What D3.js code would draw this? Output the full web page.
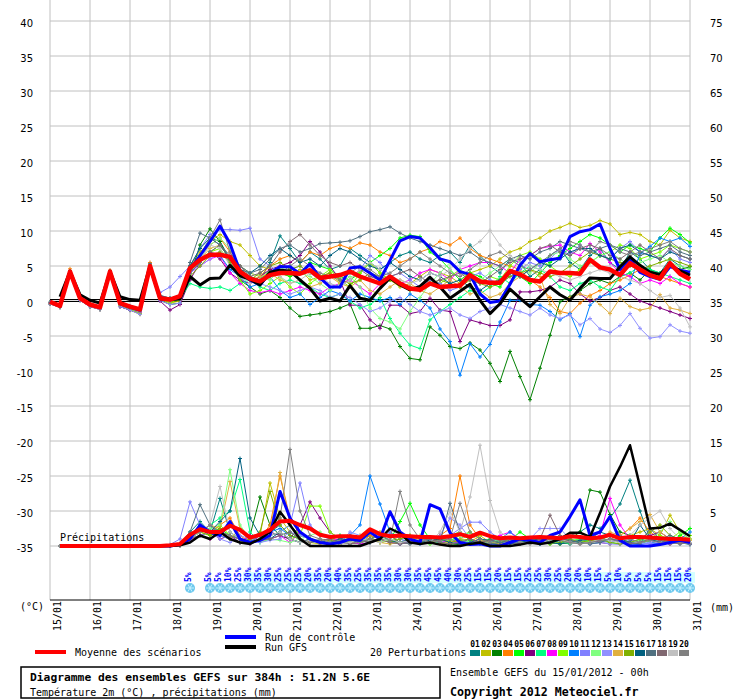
<!DOCTYPE html>
<html>
<head>
<meta charset="utf-8">
<script src="https://cdn.jsdelivr.net/npm/d3@7"></script>
<style>
body { margin: 0; background: #fff; }
svg { display: block; }
</style>
</head>
<body>
<div id="chart"></div>
<script>
// ---- data ----------------------------------------------------------
const dates = ["15/01","16/01","17/01","18/01","19/01","20/01","21/01","22/01","23/01",
  "24/01","25/01","26/01","27/01","28/01","29/01","30/01","31/01"];
const leftTicks = [40,35,30,25,20,15,10,5,0,-5,-10,-15,-20,-25,-30,-35];
const rightTicks = [75,70,65,60,55,50,45,40,35,30,25,20,15,10,5,0];
const stepHours = 6;   // one value every 6 h, 65 values from 0h to 384h

const pertNames = ["01","02","03","04","05","06","07","08","09","10",
  "11","12","13","14","15","16","17","18","19","20"];
const pertColors = ["#008080","#c0c000","#008000","#ff8000","#00ff00","#800080","#00ff80",
  "#ff00ff","#80ff00","#0080ff","#8080ff","#80ff80","#9090ff","#e0b040","#80b000",
  "#006080","#507080","#806870","#c0c0c0","#808080"];

// 2m temperature (°C)
const meanTemp = [-0.1,-0.7,4.2,0.4,-0.5,-0.9,4.2,-0.3,-0.8,-1.2,5.0,0.4,0.2,0.7,
  4.7,5.9,6.6,6.6,6.3,4.2,3.2,2.8,3.7,4.0, 4.0,3.9,4.4,3.3,3.5,3.7,4.2,3.5,3.0,2.5,
  3.5,2.5,1.8,1.6,2.5,2.0,2.1,2.2,3.7,2.8, 2.6,2.6,4.3,3.8,3.0,2.8,4.2,4.0,4.0,3.9,
  5.9,4.8,4.5,3.7,5.4,4.5,3.7,3.2,5.4,3.9,3.1];
const ctlTemp = [-0.1,-0.7,4.2,0.4,-0.5,-0.9,4.2,-0.4,-0.9,-1.3,4.9,0.5,0.2,0.5,
  4.5,6.5,8.5,10.7,8.2,4.2,3.0,2.3,4.0,4.9, 4.9,3.9,5.3,3.3,2.0,2.0,4.7,4.9,4.0,3.0,
  5.8,8.6,9.2,9.0,7.6,6.0,5.6,4.2,3.8,1.0, -0.2,0.0,2.4,5.1,6.8,5.6,5.9,6.1,9.2,9.9,
  10.2,11.0,7.5,4.5,6.1,4.1,3.5,3.1,4.9,4.4,4.1];
const gfsTemp = [null,0.6,4.2,0.9,0.1,-0.3,4.2,0.6,0.2,0.1,5.0,0.3,0.2,0.3,
  3.5,2.3,3.2,3.3,5.1,3.6,3.1,2.3,4.1,4.4, 4.3,3.0,1.8,0.0,0.4,0.0,2.2,0.4,0.1,1.8,
  3.3,2.3,1.6,2.1,3.4,2.0,0.4,1.4,2.4,0.1, -1.8,-0.4,1.7,0.4,-0.8,0.6,2.0,0.9,0.1,1.8,
  3.3,3.2,3.2,4.9,6.3,5.1,4.1,3.8,5.2,4.3,3.7];
const pertTemp = [
  // 01
  [-0.2,-0.6,4.3,0.5,-0.4,-0.8,4.3,-0.3,-0.8,-1.2,5.3,0.8,0.4,0.8,
   4.5,6.5,9.0,8.5,6.0,4.5,3.5,3.0,5.5,9.3, 7.5,5.5,7.0,6.0,4.5,5.0,7.5,6.5,5.5,4.5,
   5.5,6.5,7.0,6.0,5.5,6.5,7.0,5.5,8.0,6.5, 5.0,4.0,6.0,5.5,3.5,4.5,6.5,7.5,5.5,4.5,
   6.5,7.5,5.5,4.5,7.0,6.0,4.5,4.0,6.0,5.0,4.5],
  // 02
  [-0.3,-0.8,4.1,0.3,-0.6,-1.2,4.0,-0.7,-1.3,-1.9,4.8,0.2,-0.3,0.0,
   5.0,7.0,8.5,9.5,8.5,8.0,6.5,5.0,4.5,4.0, 3.5,4.5,3.0,3.5,4.0,2.5,3.0,4.5,5.5,4.0,
   3.0,2.0,2.5,3.5,4.5,4.0,3.5,2.5,4.0,4.5, 5.0,6.0,7.0,7.5,8.5,9.0,10.0,10.5,11.1,10.5,
   10.8,11.5,11.0,9.5,9.8,9.5,8.5,8.0,10.1,9.0,8.5],
  // 03
  [-0.4,-0.9,3.9,0.1,-0.8,-1.2,3.9,-0.8,-1.3,-1.7,4.7,0.1,-0.5,-0.3,
   3.5,8.0,10.3,8.5,5.5,3.0,2.0,1.0,1.5,0.5, -1.0,-2.2,-2.0,-1.8,-1.5,-1.0,-0.4,-3.9,-3.9,-3.5,
   -4.0,-6.5,-8.2,-8.4,-3.7,-4.9,-6.5,-6.8,-6.0,-7.0, -8.9,-11.5,-7.2,-10.8,-14.1,-9.6,-4.9,-0.1,0.6,1.5,
   2.5,3.0,2.5,3.5,4.0,3.0,4.5,3.5,5.0,4.5,4.9],
  // 04
  [-0.2,-0.7,4.6,0.4,-0.5,-0.9,4.4,-0.4,-0.9,-1.3,5.5,0.6,0.2,0.6,
   5.0,6.5,8.0,9.0,7.0,5.0,4.0,3.5,5.0,6.0, 6.5,5.5,7.0,6.5,7.5,8.0,7.5,8.3,8.0,7.0,
   6.5,5.5,6.0,7.0,7.5,8.5,8.0,9.0,7.5,6.5, 6.0,5.5,5.0,4.5,3.0,2.0,0.5,-1.5,-1.8,-0.3,
   0.8,1.5,2.5,3.0,3.7,4.5,4.0,3.5,3.0,2.5,2.0],
  // 05
  [-0.3,-0.8,4.1,0.3,-0.6,-1.0,4.1,-0.5,-1.0,-1.5,5.0,0.5,0.0,0.3,
   4.0,5.5,7.0,8.0,6.0,4.5,3.5,3.0,4.5,4.0, 3.5,4.0,5.5,5.0,4.5,3.5,3.0,4.0,5.5,6.5,
   7.5,9.0,9.4,9.2,7.0,6.0,4.5,3.0,4.0,3.5, 2.5,2.0,4.0,3.5,2.5,4.0,5.5,6.5,7.5,8.5,
   9.5,9.0,8.0,7.0,8.0,7.5,7.0,9.0,10.4,9.5,8.3],
  // 06
  [-0.4,-0.9,3.9,0.1,-0.8,-1.2,3.8,-0.8,-1.3,-1.8,4.6,0.0,-1.3,-0.5,
   3.0,5.5,7.0,6.0,4.0,3.0,2.5,3.5,4.5,5.0, 5.5,6.5,8.5,7.0,5.0,3.0,-0.6,-0.6,-2.7,-3.9,
   -0.6,-0.6,-1.8,-1.5,0.4,-1.3,-1.5,-5.8,-2.7,-3.1, -3.5,-3.5,-2.7,1.3,1.3,1.5,2.0,3.0,2.5,1.0,
   0.0,0.5,1.5,2.0,1.0,0.0,-0.5,-1.0,-1.5,-2.0,-2.5],
  // 07
  [-0.3,-0.8,4.1,0.3,-0.6,-1.0,4.1,-0.5,-1.0,-1.5,5.0,0.5,0.0,0.3,
   2.5,2.0,1.8,2.0,1.5,2.5,3.0,2.0,1.5,2.5, 3.0,2.5,2.0,1.0,0.5,1.0,0.0,-1.0,-0.5,0.5,
   -2.5,-4.6,-6.3,-6.8,-2.7,-1.5,-0.5,0.5,1.5,1.0, 2.0,3.5,2.5,4.0,5.0,4.5,3.5,2.0,1.5,2.5,
   3.0,2.0,1.5,3.5,4.0,5.0,4.5,4.0,3.5,3.0,2.5],
  // 08
  [-0.3,-0.7,4.2,0.4,-0.5,-0.9,4.0,-0.6,-1.1,-1.6,4.9,0.4,0.0,0.4,
   4.0,5.0,6.0,6.5,4.0,2.5,1.5,1.2,1.5,1.0, 1.5,2.0,1.5,1.0,2.0,2.5,3.0,2.0,1.0,2.5,
   3.5,2.5,3.0,4.0,4.5,4.0,3.0,4.5,5.0,5.5, 5.5,5.0,4.0,6.0,6.5,7.5,7.8,8.0,7.0,6.5,
   8.2,7.0,5.5,4.0,3.5,2.5,3.0,2.5,3.5,2.5,2.0],
  // 09
  [-0.3,-0.8,4.0,0.2,-0.7,-1.1,4.0,-0.6,-1.2,-1.8,4.9,0.3,-0.2,0.2,
   4.5,6.0,7.0,7.5,5.5,3.0,1.0,1.5,2.5,3.5, 2.0,1.0,2.5,3.5,4.5,3.0,2.0,4.0,5.5,4.0,
   3.0,2.5,1.5,2.0,3.0,2.5,3.5,4.5,3.0,2.5, 3.5,3.0,5.0,6.5,7.0,6.0,5.0,4.0,3.5,4.5,
   5.5,6.5,7.0,8.0,7.5,6.0,6.5,7.0,8.0,7.5,7.0],
  // 10
  [-0.3,-0.8,4.1,0.3,-0.6,-1.0,4.1,-0.5,-1.0,-1.5,5.0,0.5,0.0,0.3,
   4.0,5.5,7.0,6.5,4.5,3.5,2.0,2.5,3.5,1.5, 0.5,1.0,-0.5,0.5,1.5,1.0,0.0,1.0,0.5,0.0,
   0.5,-0.5,1.0,0.1,-1.0,-4.0,-5.8,-10.6,-6.1,-8.0, -6.2,-3.0,0.1,0.1,-0.5,-0.6,-1.5,-2.7,-1.8,-5.1,
   -0.6,0.6,1.0,1.5,2.5,6.8,7.8,9.0,8.5,9.0,7.8],
  // 11
  [-0.3,-0.8,4.1,0.3,-0.6,-1.0,4.1,-0.5,-1.0,-1.5,5.0,1.2,2.0,3.5,
   5.0,7.5,9.5,10.2,10.2,10.1,10.4,6.0,5.0,4.0, 4.5,5.0,4.0,3.0,2.5,2.0,3.0,4.5,6.5,5.5,
   3.5,4.0,3.0,2.0,3.0,2.5,1.5,2.0,3.5,4.0, 3.0,2.5,3.5,4.5,5.5,5.0,6.0,7.5,6.5,8.0,
   7.0,6.5,6.0,7.5,8.5,7.0,6.5,6.0,7.5,6.0,5.5],
  // 12
  [-0.3,-0.8,4.1,0.3,-0.6,-1.0,4.1,-0.5,-1.0,-1.5,5.0,0.5,0.0,0.3,
   4.5,6.0,8.0,9.0,7.5,5.0,4.0,3.5,3.0,4.5, 5.0,4.0,3.5,2.5,1.5,2.5,3.5,2.0,-1.0,-2.5,
   -3.0,-4.0,-1.5,0.5,2.5,4.0,5.5,4.5,3.5,3.0, 4.0,5.0,6.0,5.0,4.0,5.5,6.5,7.0,6.0,5.0,
   5.5,6.5,7.0,6.0,5.0,5.5,6.0,6.5,5.5,5.0,4.5],
  // 13
  [-0.4,-0.9,3.9,0.1,-0.8,-1.2,3.9,-0.8,-1.3,-1.9,4.7,0.1,-0.5,-0.3,
   4.0,5.0,6.0,7.0,5.5,4.0,3.0,2.5,2.0,1.5, 1.0,1.5,2.0,1.5,0.5,1.0,0.5,-0.5,-1.5,-1.0,
   0.0,0.5,-0.5,-1.5,-2.0,-1.5,-1.0,-2.0,-2.5,-1.5, -1.0,-0.5,-1.0,-1.5,-2.0,-1.0,-2.0,-2.5,-2.0,-3.4,
   -2.5,-4.0,-4.5,-3.5,-1.8,-3.9,-5.3,-5.1,-3.4,-4.3,-4.6],
  // 14
  [-0.3,-0.8,4.3,0.3,-0.6,-1.0,4.2,-0.5,-1.0,-1.5,5.2,0.5,0.0,0.3,
   4.5,6.0,7.5,8.0,6.0,4.0,3.0,3.5,4.0,3.0, 2.5,3.0,2.0,2.5,3.5,2.5,2.0,3.0,1.5,1.0,
   2.0,3.0,2.5,1.5,1.0,2.0,3.0,2.0,1.0,1.5, 0.5,1.0,2.5,3.5,4.5,3.5,-0.5,-1.8,0.5,1.0,
   0.6,-0.5,-1.8,0.4,-0.8,-1.3,-1.0,0.9,-1.0,-1.3,-1.8],
  // 15
  [-0.3,-0.8,4.1,0.3,-0.6,-1.0,4.1,-0.5,-1.0,-1.5,5.0,0.5,0.0,0.3,
   3.5,5.0,6.5,7.0,5.5,4.0,3.0,4.0,5.0,5.5, 4.5,5.0,4.0,3.5,4.0,3.0,2.5,3.0,4.0,3.5,
   3.0,2.5,2.0,1.5,2.5,3.0,2.5,2.0,3.0,2.5, 2.0,2.5,3.5,4.0,4.5,4.0,3.5,4.0,5.0,6.0,
   7.0,6.5,6.0,5.5,5.0,4.5,5.0,5.5,6.0,5.5,5.0],
  // 16
  [-0.2,-0.7,4.2,0.4,-0.5,-0.9,4.2,-0.4,-0.9,-1.4,5.1,0.6,0.1,0.5,
   5.0,7.5,9.0,8.0,6.0,4.5,4.0,5.0,6.5,7.5, 6.5,5.5,6.0,5.0,6.5,7.5,7.0,6.0,5.0,4.5,
   5.5,4.5,3.5,3.0,4.0,3.5,2.5,3.0,2.0,1.5, 2.5,3.0,4.0,3.5,4.5,5.5,5.0,6.0,7.0,7.5,
   7.5,6.5,6.0,7.5,8.0,7.0,6.5,6.0,7.0,6.5,6.0],
  // 17
  [-0.2,-0.6,4.3,0.5,-0.4,-0.8,4.3,-0.3,-0.8,-1.2,5.3,0.8,0.4,0.8,
   5.5,9.7,9.0,8.0,6.0,5.0,4.0,4.5,6.0,7.5, 8.0,7.0,7.5,8.2,8.3,8.4,8.6,9.2,9.9,10.2,
   10.6,9.7,9.0,8.5,8.0,7.5,7.0,6.5,7.0,6.0, 5.5,5.0,6.0,6.5,6.0,7.0,7.5,8.5,8.0,7.5,
   7.0,7.5,8.0,7.5,7.0,6.5,7.0,7.5,8.0,7.0,6.5],
  // 18
  [-0.3,-0.8,4.1,0.3,-0.6,-1.0,4.1,-0.5,-1.0,-1.5,5.0,0.5,0.0,0.3,
   4.0,5.5,7.0,8.0,6.5,5.0,3.5,4.0,5.0,7.0, 8.5,9.5,8.0,6.5,5.5,5.0,5.5,4.5,3.5,3.0,
   3.5,4.0,4.5,3.5,2.5,3.0,3.5,4.0,3.0,2.5, 3.5,4.5,5.5,6.0,6.5,7.5,8.0,7.0,6.5,7.5,
   8.0,7.5,6.5,6.0,7.0,8.0,7.0,6.0,7.5,6.5,6.0],
  // 19
  [-0.3,-0.8,4.1,0.3,-0.6,-1.0,4.1,-0.5,-1.0,-1.5,5.0,0.5,0.0,0.3,
   4.5,6.0,8.0,7.5,5.0,3.5,2.5,3.0,4.0,3.5, 2.5,3.0,4.0,3.5,2.5,2.0,3.0,4.5,5.5,4.5,
   3.5,3.0,2.5,3.0,4.0,3.5,4.5,6.0,7.5,8.5, 10.1,8.0,6.5,5.5,5.0,4.5,4.0,3.5,3.0,3.5,
   4.0,4.5,4.0,3.5,3.0,2.5,1.5,0.5,0.8,-1.0,-3.7],
  // 20
  [-0.3,-0.8,4.1,0.3,-0.6,-1.0,4.1,-0.5,-1.0,-1.5,5.0,0.5,0.0,0.3,
   4.0,6.5,9.0,11.6,7.0,4.5,3.0,2.5,3.5,4.0, 5.0,6.0,5.0,4.0,3.5,3.0,4.0,5.0,4.5,3.5,
   4.0,5.0,6.0,7.0,6.0,5.0,4.0,3.5,4.5,5.5, 6.5,7.0,6.0,5.0,4.5,5.5,6.5,7.5,8.5,8.0,
   7.0,8.5,8.0,7.0,6.5,7.0,7.5,8.0,8.5,7.5,7.0]
];

// 6-hourly precipitation (mm)
const meanPrec = [null,0,0,0,0,0,0,0,0,0,0,0,0.1,0.3,
  1.6,2.4,2.0,2.0,2.9,2.3,1.2,1.6,2.3,3.5, 3.6,3.0,2.5,1.6,1.3,1.4,1.4,1.2,2.4,1.7,
  1.4,1.5,1.4,1.3,1.3,1.2,1.4,1.7,1.3,1.9, 1.4,1.1,1.2,1.1,1.2,1.3,1.2,1.1,1.4,1.3,
  1.1,1.2,1.6,1.1,1.3,1.3,1.2,1.1,1.0,1.0,0.9];
const ctlPrec = [null,0,0,0,0,0,0,0,0,0,0,0,0,0.2,
  1.0,3.0,2.0,1.5,3.5,1.0,0.5,0.8,1.5,7.8, 4.0,2.0,1.0,0.5,0.3,0.5,1.0,0.8,2.0,1.0,
  4.9,2.0,1.0,0.5,5.9,5.3,1.9,0.5,0.2,0.3, 0.0,0.0,0.5,1.0,0.8,0.5,1.5,2.0,4.2,6.6,
  1.5,2.0,4.2,0.8,0.0,0.0,0.0,0.2,0.5,0.8,0.5];
const gfsPrec = [null,0,0,0,0,0,0,0,0,0,0,0,0,0.1,
  0.5,1.5,1.0,2.0,1.0,0.5,0.3,1.0,2.0,4.9, 3.0,1.0,0.0,0.0,0.0,0.0,0.0,0.0,0.5,1.0,
  2.5,1.8,0.5,0.3,0.5,0.2,0.0,0.0,0.3,0.5, 0.0,0.0,0.0,0.2,0.5,0.3,0.5,1.0,1.9,1.9,
  1.3,4.7,8.5,11.3,14.4,8.5,2.5,2.6,3.2,2.3,1.4];
const pertPrec = [
  [null,0,0,0,0,0,0,0,0,0,0,0, 0,0.3,2.0,3.5,2.0,6.8,2.0,1.0,0.5,1.0, 2.0,3.0,1.5,1.0,0.5,0.8,1.0,0.5,0.3,0.8,
   1.5,1.0,0.5,0.3,0.5,1.0,0.8,0.5,0.3,0.5, 1.0,0.5,0.3,0.2,0.5,0.8,0.5,0.3,0.5,1.0, 1.5,2.0,3.0,2.5,4.0,6.0,9.4,5.0,1.0,0.5, 0.3,0.5,0.2],
  [null,0,0,0,0,0,0,0,0,0,0,0, 0,0.2,1.5,2.0,3.0,1.5,1.0,2.5,0.5,1.5, 9.0,4.0,2.0,1.0,0.5,0.3,0.5,1.0,0.8,0.5,
   1.0,2.0,1.5,0.5,0.8,1.5,0.5,0.3,0.5,1.0, 0.5,1.5,0.5,0.2,0.5,0.3,0.5,1.0,0.5,0.8, 1.0,0.5,0.3,0.5,1.0,0.8,1.5,2.0,2.5,1.5, 4.4,2.0,1.0],
  [null,0,0,0,0,0,0,0,0,0,0,0, 0,0.1,1.0,2.5,1.5,2.0,1.0,0.5,1.5,7.0, 3.0,1.5,1.0,0.5,1.0,0.8,0.5,0.3,0.5,0.8,
   1.0,0.5,0.8,0.3,0.5,0.8,1.0,0.5,0.3,0.2, 0.5,0.3,0.5,1.0,0.5,0.3,0.5,0.8,0.5,0.3, 1.0,2.0,8.0,7.7,4.5,2.0,1.5,1.0,0.5,0.3, 0.5,0.8,0.5],
  [null,0,0,0,0,0,0,0,0,0,0,0, 0,0.2,1.5,2.5,2.0,3.0,4.0,1.5,0.5,1.0, 3.0,10.0,4.0,1.5,1.0,0.5,0.8,1.0,0.5,0.3,
   1.5,1.0,0.5,1.5,0.8,0.5,1.0,1.5,2.5,10.0, 3.0,1.0,0.5,0.3,0.5,0.8,1.0,0.5,0.8,1.5, 1.0,0.5,0.8,0.5,1.0,1.5,2.5,4.0,2.0,1.0, 0.5,1.5,1.0],
  [null,0,0,0,0,0,0,0,0,0,0,0, 0,0.2,1.0,1.5,2.0,2.5,1.5,1.0,0.5,0.8, 1.5,2.0,3.0,1.5,1.0,0.5,0.8,1.5,1.0,0.5,
   1.0,1.5,0.8,3.5,6.1,3.0,1.0,0.5,1.5,2.0, 0.8,0.5,1.0,0.5,0.8,2.0,1.0,0.5,0.3,0.5, 0.8,1.0,0.5,0.8,1.5,1.0,0.5,0.3,0.8,1.0, 0.5,1.5,2.5],
  [null,0,0,0,0,0,0,0,0,0,0,0, 0,0.1,1.0,1.5,2.0,1.0,1.5,0.5,0.3,1.0, 2.0,1.5,1.0,3.0,6.3,4.0,2.0,1.0,1.5,0.8,
   0.5,1.0,0.5,0.3,0.8,1.0,0.5,1.5,1.0,0.5, 0.3,0.5,0.8,1.0,0.5,0.3,0.5,1.0,0.8,0.5, 0.3,0.5,1.0,0.5,0.3,1.0,0.5,0.8,1.5,2.0, 1.0,0.5,0.3],
  [null,0,0,0,0,0,0,0,0,0,0,0, 0,0.2,1.5,2.0,3.0,4.0,5.0,9.5,2.0,0.5, 1.0,1.5,2.0,1.0,0.5,0.8,1.0,1.5,0.5,0.3,
   0.5,1.0,0.8,0.5,1.0,0.5,0.3,0.5,0.8,1.0, 2.0,1.0,0.5,0.8,0.5,0.3,1.0,0.5,0.8,0.5, 0.3,0.5,1.0,0.8,0.5,0.3,0.5,1.0,0.5,0.8, 0.5,0.3,0.5],
  [null,0,0,0,0,0,0,0,0,0,0,0, 0,0.1,0.8,1.5,1.0,2.0,1.0,0.5,1.5,0.8, 1.0,1.5,0.5,2.0,1.0,0.5,0.8,1.0,0.5,0.3,
   0.5,0.8,1.0,0.5,0.3,0.5,1.0,0.5,0.8,0.3, 0.5,1.0,0.5,1.5,2.0,1.0,0.5,0.8,0.5,1.0, 0.5,0.8,1.0,1.5,6.8,3.0,1.0,0.5,0.8,0.5, 0.3,0.5,0.5],
  [null,0,0,0,0,0,0,0,0,0,0,0, 0,0.2,1.0,2.0,1.5,3.0,1.5,1.0,0.5,1.0, 1.5,2.0,1.0,1.5,5.7,5.7,2.0,1.0,0.5,0.8,
   1.0,0.5,0.8,1.0,1.5,0.5,0.3,1.0,0.8,1.5, 2.0,1.0,0.5,0.8,1.0,0.5,0.8,1.0,0.5,0.3, 0.5,0.8,0.5,1.0,0.8,0.5,1.0,0.5,0.8,1.5, 1.0,2.0,1.5],
  [null,0,0,0,0,0,0,0,0,0,0,0, 0,0.2,1.0,2.0,3.0,1.5,1.0,0.5,0.8,1.5, 2.0,2.5,1.5,1.0,0.5,0.8,0.5,1.0,1.5,3.0,
   10.0,6.0,2.0,1.0,0.5,0.3,0.5,1.0,1.5,0.8, 0.5,0.3,0.5,1.0,2.0,0.8,0.5,0.3,0.5,0.8, 1.0,0.5,0.3,0.5,1.0,0.5,0.3,0.2,0.5,0.3, 0.5,1.0,2.0],
  [null,0,0,0,0,0,0,0,0,0,0,0, 0.2,1.0,6.3,3.0,2.0,1.5,1.0,0.5,1.0,0.8, 1.5,2.0,3.0,9.0,3.0,1.5,1.0,0.5,0.8,1.0,
   0.5,1.0,2.0,1.0,0.5,0.8,0.5,1.0,1.5,2.5, 3.4,3.4,2.0,1.0,0.5,0.3,0.5,0.8,0.5,1.0, 0.5,0.3,0.5,0.8,0.5,1.0,0.8,0.5,0.3,0.5, 0.8,0.5,0.3],
  [null,0,0,0,0,0,0,0,0,0,0,0, 0,0.2,1.5,2.0,2.5,3.0,10.9,3.0,1.0,0.5, 1.0,0.8,0.5,1.0,1.5,2.0,1.0,0.5,0.8,1.0,
   0.5,0.8,1.0,0.5,0.3,0.5,0.8,1.0,1.5,1.0, 0.5,0.3,0.5,1.0,0.8,0.5,1.0,0.5,0.3,0.5, 1.0,0.8,0.5,1.0,0.5,0.3,0.5,0.8,1.0,2.0, 3.5,2.0,1.0],
  [null,0,0,0,0,0,0,0,0,0,0,0, 0,0.1,1.0,1.5,2.0,1.0,0.5,1.5,1.0,0.5, 0.8,1.0,2.0,1.5,1.0,0.5,0.3,0.5,2.0,1.5,
   0.8,1.0,0.5,0.3,0.5,0.8,1.0,1.5,4.0,3.0, 1.0,0.5,0.3,0.5,0.8,0.5,1.0,2.5,2.5,2.5, 1.0,0.5,0.3,0.5,0.3,0.2,0.5,0.3,0.5,0.8, 0.5,0.3,0.5],
  [null,0,0,0,0,0,0,0,0,0,0,0, 0,0.2,1.5,2.0,3.0,2.5,9.2,2.5,1.0,1.5, 2.0,10.5,3.0,1.0,0.5,0.8,1.0,0.5,0.8,1.5,
   1.0,0.5,0.3,0.5,1.0,0.8,0.5,0.3,0.5,1.0, 1.5,0.8,0.5,0.3,0.5,1.0,0.5,0.8,0.5,1.0, 0.5,0.3,0.5,1.0,2.0,1.5,2.5,3.5,4.5,2.0, 1.0,0.5,0.8],
  [null,0,0,0,0,0,0,0,0,0,0,0, 0,0.1,1.0,2.0,1.5,2.5,1.0,0.5,1.0,2.0, 7.8,3.0,1.5,1.0,0.5,1.0,0.8,0.5,1.0,0.5,
   0.8,1.0,0.5,1.0,1.5,0.8,0.5,1.0,0.5,0.8, 1.0,0.5,0.3,0.5,1.0,0.5,0.8,0.5,0.3,0.5, 1.0,0.5,0.8,1.0,0.5,0.3,0.5,1.0,2.0,3.0, 1.5,1.0,0.5],
  [null,0,0,0,0,0,0,0,0,0,0,0, 0,0.3,1.5,3.0,2.0,3.5,5.0,12.5,4.0,1.5, 1.0,2.0,1.0,0.5,1.0,0.8,0.5,1.0,0.8,0.5,
   1.0,1.5,0.8,0.5,1.0,0.5,0.8,1.0,0.5,0.3, 0.5,1.0,0.8,0.5,0.3,0.5,0.8,1.0,0.5,0.3, 0.5,0.8,1.0,2.0,1.5,1.0,0.5,3.0,1.0,0.5, 0.8,1.0,0.5],
  [null,0,0,0,0,0,0,0,0,0,0,0, 0,0.3,2.0,5.9,3.0,2.0,1.5,1.0,0.5,1.0, 1.5,2.0,1.0,0.5,0.8,1.0,0.5,0.3,1.0,0.8,
   0.5,1.0,1.5,0.5,0.3,0.5,1.0,0.5,6.1,2.0, 1.0,0.5,0.3,0.5,0.8,1.0,0.5,0.3,0.5,1.0, 0.8,0.5,0.3,0.5,1.0,0.8,0.5,0.3,2.5,1.0, 1.5,1.0,0.5],
  [null,0,0,0,0,0,0,0,0,0,0,0, 0,0.1,1.0,1.5,1.0,2.0,1.5,1.0,0.5,0.8, 1.0,1.5,2.0,1.0,0.5,0.8,1.0,0.5,0.3,0.5,
   0.8,1.0,0.5,0.3,0.5,0.8,1.0,0.5,0.3,0.5, 1.0,0.5,0.8,1.0,0.5,0.3,0.5,1.0,4.4,1.5, 0.5,0.3,0.5,0.8,1.0,0.5,0.3,0.5,1.0,0.8, 0.5,0.3,0.5],
  [null,0,0,0,0,0,0,0,0,0,0,0, 0,0.2,1.0,2.0,3.0,8.5,2.0,1.0,0.5,1.0, 1.5,2.0,1.0,0.5,0.8,1.0,0.5,0.3,0.5,1.0,
   0.8,0.5,1.0,0.5,0.8,1.0,0.5,2.0,5.0,2.0, 7.0,14.4,6.5,2.0,1.0,0.5,0.3,0.5,0.8,1.0, 0.5,0.3,0.5,1.0,0.8,0.5,1.5,3.0,4.0,5.0, 2.5,1.0,0.5],
  [null,0,0,0,0,0,0,0,0,0,0,0, 0,0.2,1.5,2.0,3.0,2.0,1.5,1.0,0.5,1.5, 2.0,4.0,13.8,5.0,1.5,1.0,0.5,0.8,1.0,0.5,
   1.0,1.5,0.8,7.8,3.0,1.0,0.5,0.8,1.0,6.1, 2.0,1.0,0.5,0.8,1.0,0.5,0.3,0.5,1.0,0.8, 0.5,0.3,0.5,0.8,1.0,1.5,1.0,0.5,0.8,0.5, 0.3,0.5,0.3]
];

// snow probability (%) per 6 h step
const snowPct = [null,null,null,null,null,null,null,null,null,null,null,null,null,null,
  5,null,5,5,10,25,30,35,30,25,25,25,20,35,20,40,35,25,35,
  35,35,30,30,35,45,45,40,30,25,15,15,20,15,15,25,25,30,25,20,20,10,15,5,10,5,5,5,15,15,15,20];

// ---- chart ---------------------------------------------------------
const width = 740, height = 700;
const mono = "DejaVu Sans Mono, monospace";

const svg = d3.select("#chart").append("svg")
  .attr("width", width)
  .attr("height", height);

const x = d3.scaleLinear().domain([0, 384]).range([50, 690]);
const yT = d3.scaleLinear().domain([-35, 40]).range([546, 21]);
const yP = d3.scaleLinear().domain([0, 75]).range([546, 21]);

// grid
svg.append("g").selectAll("line")
  .data(dates)
  .join("line")
  .attr("x1", (d, i) => x(i * 24)).attr("x2", (d, i) => x(i * 24))
  .attr("y1", 0).attr("y2", 600)
  .attr("stroke", "#c0c0c0");
svg.append("g").selectAll("line")
  .data(leftTicks)
  .join("line")
  .attr("x1", x(0)).attr("x2", x(384))
  .attr("y1", d => yT(d)).attr("y2", d => yT(d))
  .attr("stroke", "#c0c0c0");

// 0°C double line
[-1.5, 0.5].forEach(off => {
  svg.append("line")
    .attr("x1", x(0)).attr("x2", x(384))
    .attr("y1", yT(0) + off).attr("y2", yT(0) + off)
    .attr("stroke", "#000");
});

// bottom axis line
svg.append("line")
  .attr("x1", x(0)).attr("x2", x(384))
  .attr("y1", 600).attr("y2", 600)
  .attr("stroke", "#000");

// tick labels
svg.append("g").selectAll("text")
  .data(leftTicks)
  .join("text")
  .attr("x", 33).attr("y", d => yT(d) + 5.5)
  .attr("text-anchor", "end")
  .style("font-family", "DejaVu Sans, sans-serif").style("font-size", "10px")
  .text(d => d);
svg.append("g").selectAll("text")
  .data(rightTicks)
  .join("text")
  .attr("x", 710).attr("y", d => yP(d) + 5.5)
  .style("font-family", "DejaVu Sans, sans-serif").style("font-size", "10px")
  .text(d => d);

svg.append("g").selectAll("text")
  .data(dates)
  .join("text")
  .attr("transform", (d, i) => `translate(${x(i * 24) + 7},631) rotate(-90)`)
  .attr("dy", "0.35em")
  .style("font-family", mono).style("font-size", "10px")
  .text(d => d);

svg.append("text").attr("x", 20).attr("y", 610).text("(°C)")
  .style("font-family", mono).style("font-size", "10px");
svg.append("text").attr("x", 710).attr("y", 611).text("(mm)")
  .style("font-family", mono).style("font-size", "10px");

// snow probability row
const snowSteps = snowPct.map((v, i) => ({ h: i * stepHours, v })).filter(d => d.v != null);
svg.append("rect")
  .attr("x", x(19 * stepHours) + 3).attr("y", 572)
  .attr("width", x(384) + 5 - (x(19 * stepHours) + 3)).attr("height", 11)
  .attr("fill", "#d4ffff");
const flakes = svg.append("g").selectAll("g")
  .data(snowSteps)
  .join("g")
  .attr("transform", d => `translate(${x(d.h)},588)`);
flakes.append("circle").attr("r", 5).attr("fill", "#6cc8ee");
flakes.append("path")
  .attr("d", "M-4,0H4M-2,-3.5L2,3.5M-2,3.5L2,-3.5")
  .attr("stroke", "#c8f2ff").attr("stroke-width", 1);
svg.append("g").selectAll("text")
  .data(snowSteps)
  .join("text")
  .attr("transform", d => `translate(${x(d.h) - 2},582) rotate(-90)`)
  .attr("dy", "0.35em")
  .attr("fill", "#0000ff")
  .style("font-family", mono).style("font-size", "8px").style("font-weight", "bold")
  .text(d => d.v + "%");

// line helpers
function lineT(vals) {
  return d3.line().defined(d => d != null).x((d, i) => x(i * stepHours)).y(d => yT(d))(vals);
}
function lineP(vals) {
  return d3.line().defined(d => d != null).x((d, i) => x(i * stepHours)).y(d => yP(d))(vals);
}
function crosses(vals, yScale) {
  return vals.map((d, i) => d == null ? "" :
    `M${x(i * stepHours) - 2},${yScale(d)}h4M${x(i * stepHours)},${yScale(d) - 2}v4`).join("");
}

// perturbations: precipitation then temperature
const pertG = svg.append("g").attr("fill", "none");
pertPrec.forEach((vals, k) => {
  pertG.append("path").attr("d", lineP(vals)).attr("stroke", pertColors[k]);
  pertG.append("path").attr("d", crosses(vals, yP)).attr("stroke", pertColors[k]);
});
pertTemp.forEach((vals, k) => {
  pertG.append("path").attr("d", lineT(vals)).attr("stroke", pertColors[k]);
  pertG.append("path").attr("d", crosses(vals, yT)).attr("stroke", pertColors[k]);
});

// control run, GFS run, mean
const mainG = svg.append("g").attr("fill", "none").attr("stroke-linejoin", "round");
mainG.append("path").attr("d", lineP(ctlPrec)).attr("stroke", "#0000ff").attr("stroke-width", 3);
mainG.append("path").attr("d", lineT(ctlTemp)).attr("stroke", "#0000ff").attr("stroke-width", 3);
mainG.append("path").attr("d", lineP(gfsPrec)).attr("stroke", "#000").attr("stroke-width", 2.5);
mainG.append("path").attr("d", lineT(gfsTemp)).attr("stroke", "#000").attr("stroke-width", 3);
mainG.append("path").attr("d", lineP(meanPrec)).attr("stroke", "#ff0000").attr("stroke-width", 4);
mainG.append("path").attr("d", lineT(meanTemp)).attr("stroke", "#ff0000").attr("stroke-width", 4.5);

svg.append("text").attr("x", 60).attr("y", 541).text("Précipitations")
  .style("font-family", mono).style("font-size", "10px");

// legend
svg.append("line").attr("x1", 35).attr("x2", 66).attr("y1", 652).attr("y2", 652)
  .attr("stroke", "#ff0000").attr("stroke-width", 4);
svg.append("text").attr("x", 75).attr("y", 655.5).text("Moyenne des scénarios")
  .style("font-family", mono).style("font-size", "10px");
svg.append("line").attr("x1", 225).attr("x2", 256).attr("y1", 637).attr("y2", 637)
  .attr("stroke", "#0000ff").attr("stroke-width", 4);
svg.append("text").attr("x", 265).attr("y", 640.5).text("Run de contrôle")
  .style("font-family", mono).style("font-size", "10px");
svg.append("line").attr("x1", 225).attr("x2", 256).attr("y1", 647).attr("y2", 647)
  .attr("stroke", "#000").attr("stroke-width", 4);
svg.append("text").attr("x", 265).attr("y", 650.5).text("Run GFS")
  .style("font-family", mono).style("font-size", "10px");
svg.append("text").attr("x", 370).attr("y", 655.5).text("20 Perturbations")
  .style("font-family", mono).style("font-size", "10px");

const sw = svg.append("g").selectAll("g")
  .data(pertNames)
  .join("g")
  .attr("transform", (d, i) => `translate(${470 + i * 11},0)`);
sw.append("rect").attr("y", 650).attr("width", 10).attr("height", 6)
  .attr("fill", (d, i) => pertColors[i]);
sw.append("text").attr("x", 5).attr("y", 647).attr("text-anchor", "middle")
  .style("font-family", mono).style("font-size", "8px").style("font-weight", "bold")
  .text(d => d);

// title box
svg.append("rect").attr("x", 21).attr("y", 667).attr("width", 419).attr("height", 31)
  .attr("fill", "none").attr("stroke", "#000").attr("stroke-width", 1.5);
svg.append("text").attr("x", 30).attr("y", 681)
  .text("Diagramme des ensembles GEFS sur 384h : 51.2N 5.6E")
  .style("font-family", mono).style("font-size", "11.3px").style("font-weight", "bold");
svg.append("text").attr("x", 30).attr("y", 695.5)
  .text("Température 2m (°C) , précipitations (mm)")
  .style("font-family", mono).style("font-size", "10px");
svg.append("text").attr("x", 450).attr("y", 675.5)
  .text("Ensemble GEFS du 15/01/2012 - 00h")
  .style("font-family", mono).style("font-size", "10px");
svg.append("text").attr("x", 450).attr("y", 696)
  .text("Copyright 2012 Meteociel.fr")
  .style("font-family", mono).style("font-size", "11.6px").style("font-weight", "bold");
</script>
</body>
</html>
